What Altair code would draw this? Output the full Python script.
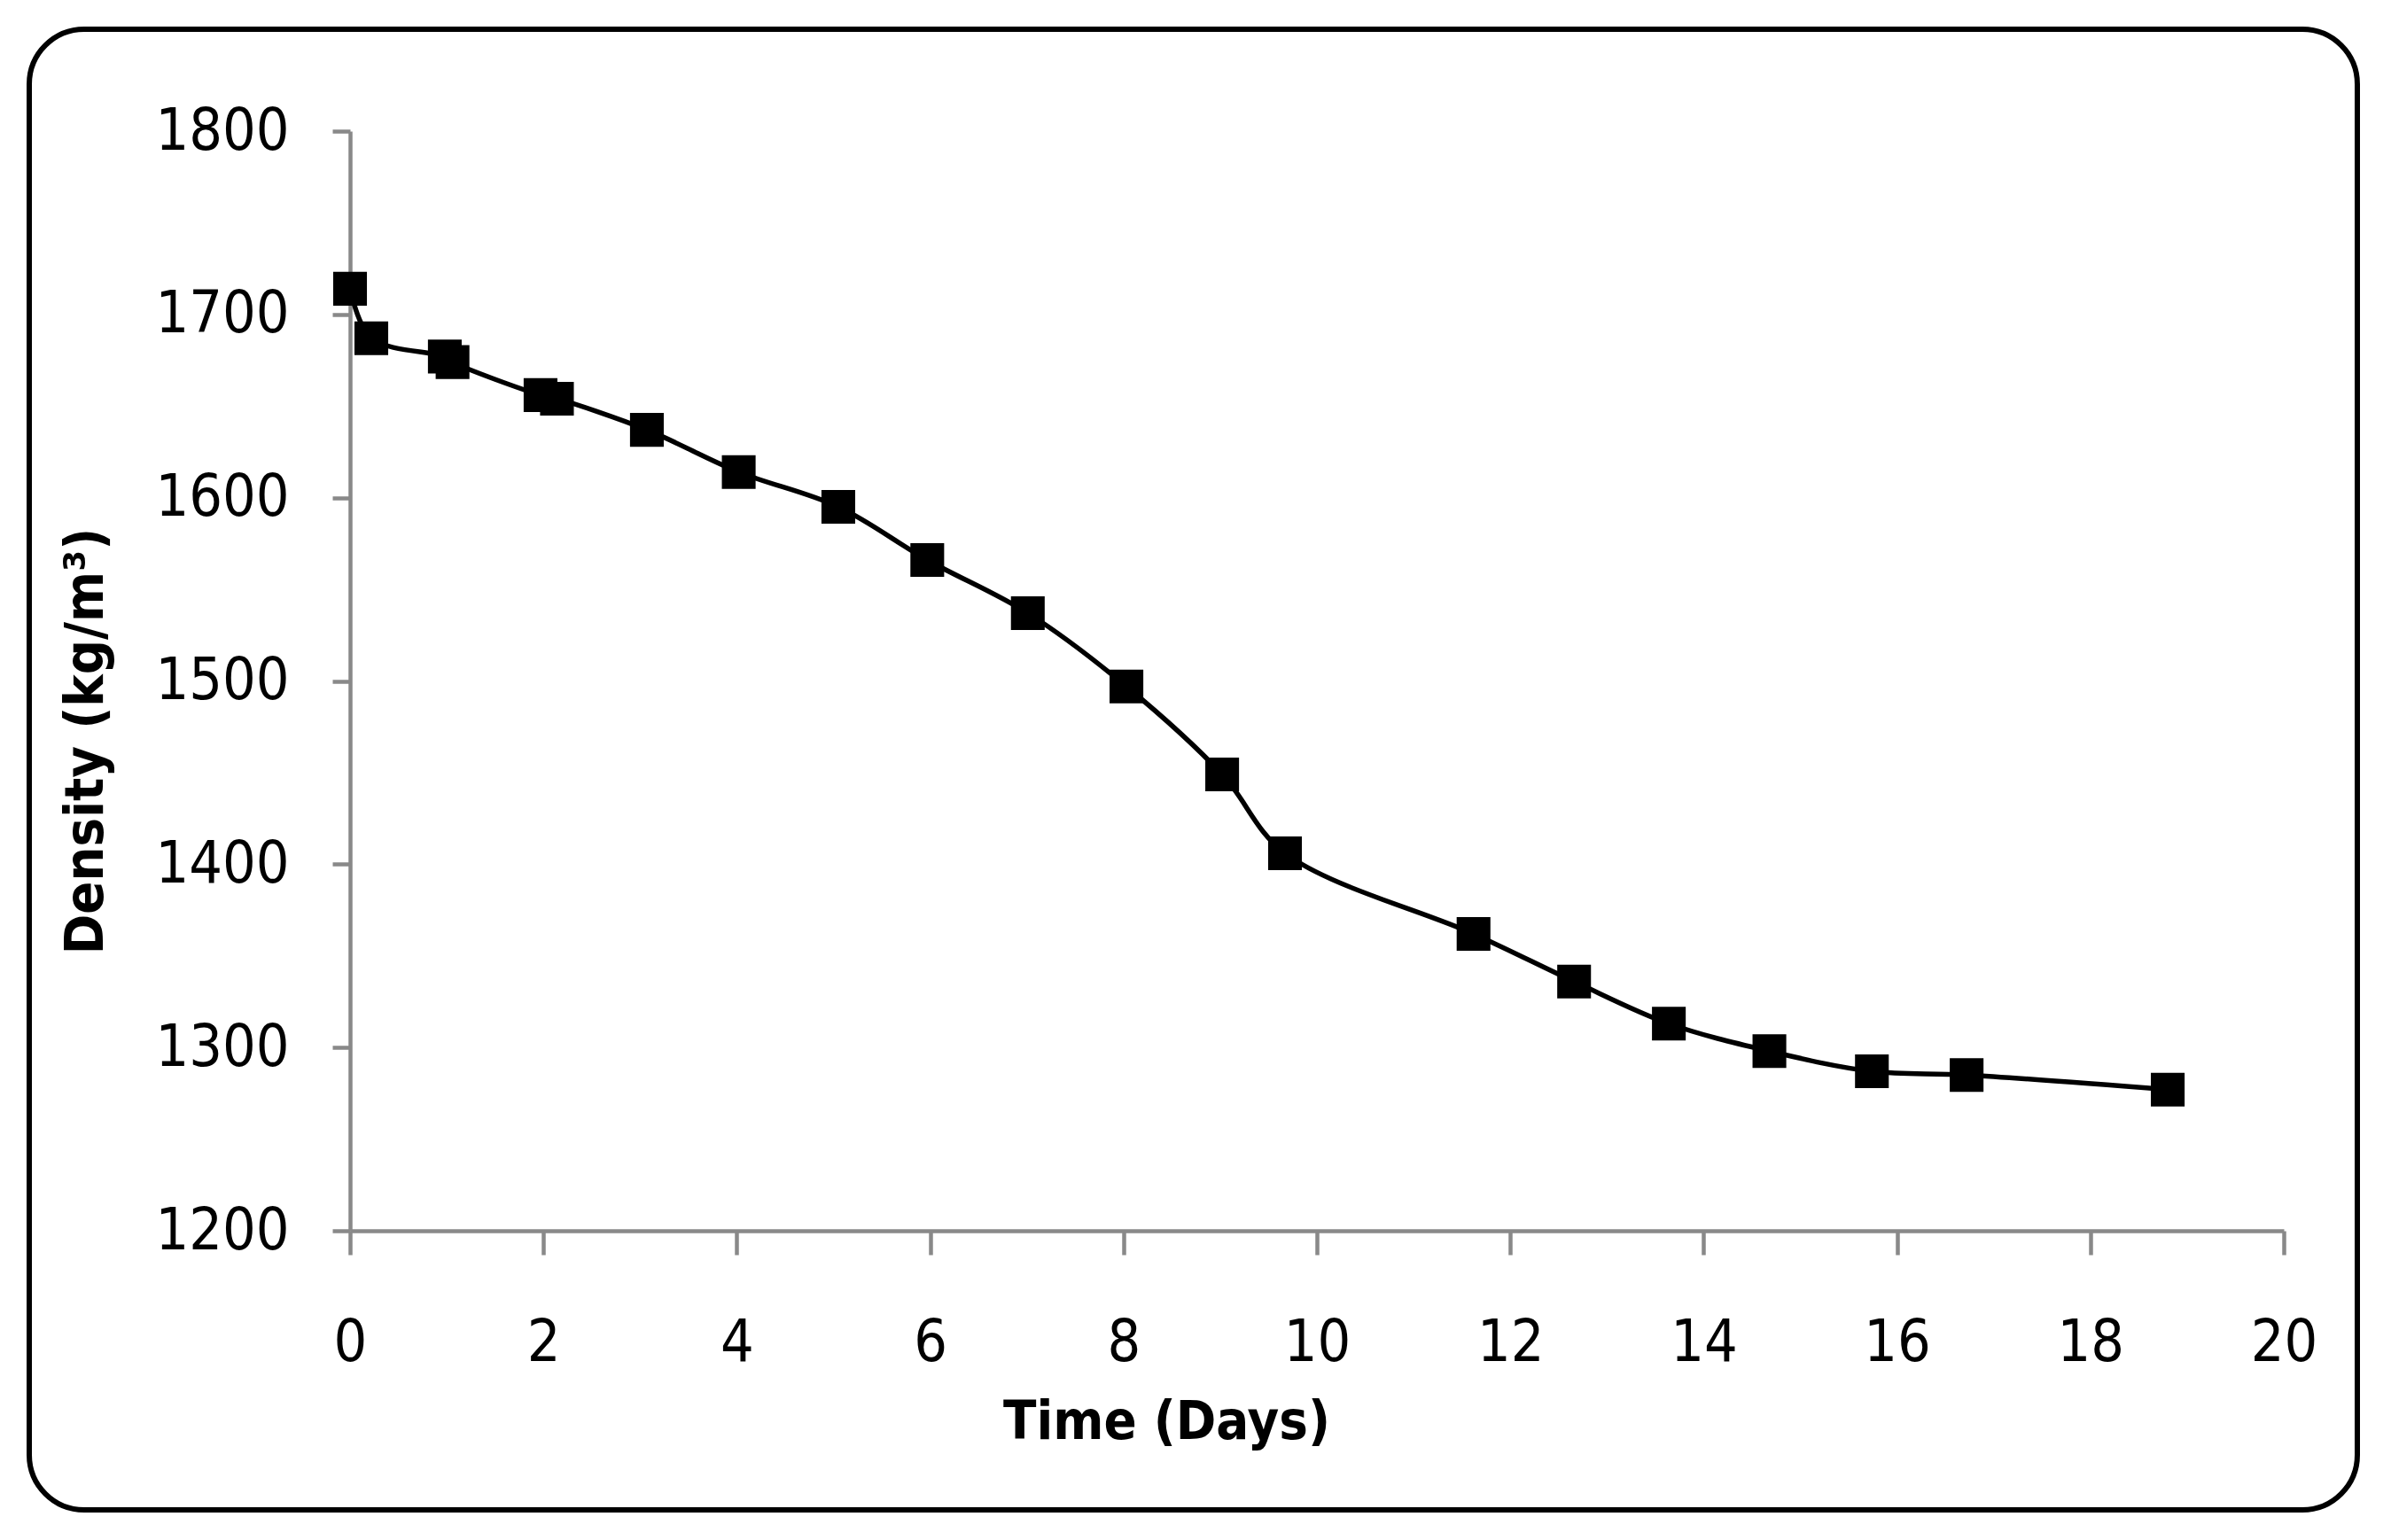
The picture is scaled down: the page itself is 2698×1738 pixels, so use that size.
import altair as alt
import pandas as pd

days = [0, 0.22, 0.98, 1.06, 1.97, 2.14, 3.07, 4.02, 5.05, 5.97, 7.01, 8.03,
        9.02, 9.67, 11.62, 12.66, 13.64, 14.68, 15.74, 16.72, 18.8]
density = [1714, 1687, 1677, 1674, 1656, 1654, 1637, 1614, 1595, 1566, 1537, 1497,
           1449, 1406, 1362, 1336, 1313, 1298, 1287, 1285, 1277]
x_ticks = list(range(0, 21, 2))
y_ticks = list(range(1200, 1801, 100))

df = pd.DataFrame({"days": days, "density": density})

FONT = "DejaVu Sans Condensed, sans-serif"
GREY = "#898989"

W, H = 2182, 1241

x_enc = alt.X(
    "days:Q",
    scale=alt.Scale(domain=[0, 20], nice=False, zero=False),
    axis=alt.Axis(
        values=x_ticks, format="d", title="Time (Days)", grid=False,
        domainColor=GREY, domainWidth=4.5, tickColor=GREY, tickWidth=4.5, tickSize=27,
        labelFont=FONT, labelFontSize=66, labelColor="black", labelPadding=67,
        labelFlush=False,
        titleFont=FONT, titleFontSize=61, titleFontWeight="bold", titleColor="black",
        titleX=921, titleY=234, titleBaseline="alphabetic", titleAlign="center",
        titleAnchor="start",
    ),
)
y_enc = alt.Y(
    "density:Q",
    scale=alt.Scale(domain=[1200, 1800], nice=False, zero=False),
    axis=alt.Axis(
        values=y_ticks, format="d", title="Density (kg/m³)", grid=False,
        domainColor=GREY, domainWidth=4.5, tickColor=GREY, tickWidth=4.5, tickSize=20,
        labelFont=FONT, labelFontSize=66, labelColor="black", labelPadding=49,
        labelFlush=False,
        titleFont=FONT, titleFontSize=61, titleFontWeight="bold", titleColor="black",
        titleX=-280, titleY=688, titleBaseline="alphabetic", titleAlign="center",
        titleAngle=270, titleAnchor="start",
    ),
)

line = alt.Chart(df).mark_line(
    color="black", strokeWidth=5.5, interpolate="catmull-rom"
).encode(x=x_enc, y=y_enc)

pts = alt.Chart(df).mark_point(
    shape="square", filled=True, color="black", size=1450, opacity=1
).encode(x="days:Q", y="density:Q")

border = alt.Chart(pd.DataFrame({"a": [0]})).mark_rect(
    fillOpacity=0, stroke="black", strokeWidth=6, cornerRadius=62, clip=False
).encode(
    x=alt.value(-362), x2=alt.value(2265), y=alt.value(-115), y2=alt.value(1556)
)

chart = alt.layer(border, line, pts).properties(
    width=W, height=H,
    autosize=alt.AutoSizeParams(type="none"),
    padding={"left": 387, "top": 140, "right": 113, "bottom": 341},
    background="white",
).configure_view(stroke=None)

chart.save("out.html", embed_options={"renderer": "svg", "actions": False})
